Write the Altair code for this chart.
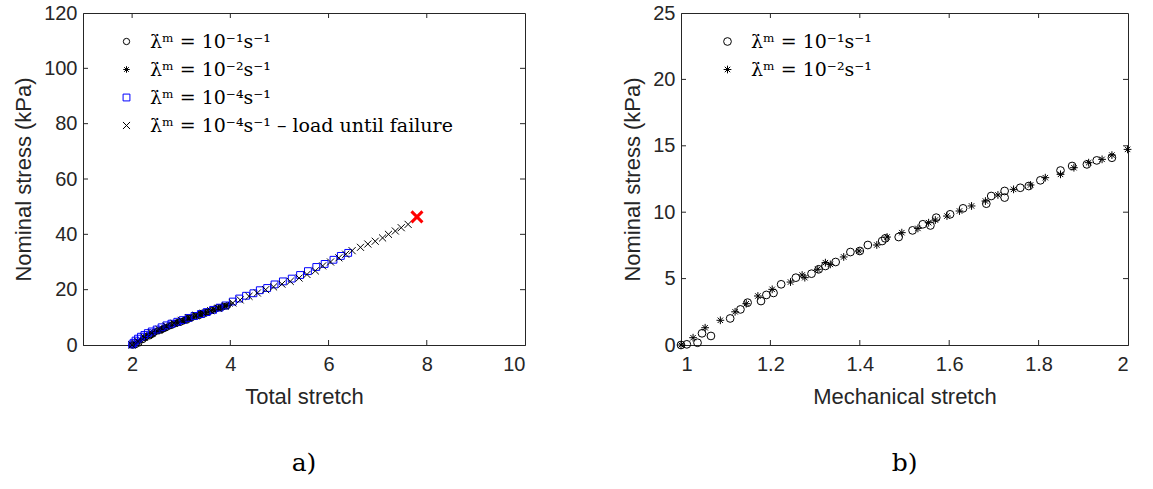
import altair as alt
import pandas as pd

# ---------------- data ----------------
S1 = "λ̇ᵐ = 10⁻¹s⁻¹"
S2 = "λ̇ᵐ = 10⁻²s⁻¹"
S4 = "λ̇ᵐ = 10⁻⁴s⁻¹"
S4F = "λ̇ᵐ = 10⁻⁴s⁻¹ – load until failure"

# panel b: mechanical stretch vs nominal stress
circ_x = [1.0, 1.013, 1.037, 1.047, 1.067, 1.11, 1.133, 1.149, 1.179, 1.191, 1.207, 1.224, 1.257,
          1.292, 1.308, 1.323, 1.346, 1.379, 1.40, 1.418, 1.45, 1.457, 1.487, 1.518, 1.541, 1.558,
          1.571, 1.602, 1.631, 1.683, 1.694, 1.724, 1.724, 1.759, 1.778, 1.804, 1.849, 1.875,
          1.908, 1.93, 1.964]
circ_y = [0.0, 0.05, 0.17, 0.88, 0.68, 2.0, 2.68, 3.19, 3.31, 3.77, 3.92, 4.57, 5.07,
          5.37, 5.70, 5.95, 6.25, 7.0, 7.08, 7.53, 7.83, 8.03, 8.13, 8.63, 9.09, 9.0,
          9.59, 9.84, 10.29, 10.64, 11.22, 11.6, 11.1, 11.84, 11.97, 12.4, 13.14, 13.48,
          13.6, 13.9, 14.1]
ast_x = [1.0, 1.027, 1.054, 1.088, 1.121, 1.146, 1.172, 1.204, 1.245, 1.271, 1.277, 1.306, 1.323,
         1.334, 1.364, 1.398, 1.438, 1.461, 1.494, 1.530, 1.554, 1.569, 1.595, 1.623, 1.65,
         1.681, 1.709, 1.744, 1.782, 1.815, 1.849, 1.879, 1.912, 1.942, 1.964, 1.999]
ast_y = [0.0, 0.55, 1.3, 1.86, 2.5, 3.11, 3.69, 4.19, 4.74, 5.27, 5.07, 5.70, 6.2,
         6.07, 6.63, 7.08, 7.53, 8.13, 8.46, 8.78, 9.21, 9.41, 9.71, 10.09, 10.47,
         10.84, 11.3, 11.72, 12.05, 12.6, 12.85, 13.35, 13.73, 13.98, 14.3, 14.73]

# panel a: total stretch vs nominal stress
sq_x = [2.0, 2.03, 2.07, 2.12, 2.18, 2.25, 2.32, 2.40, 2.50, 2.60, 2.70, 2.80, 2.92, 3.03, 3.15,
        3.27, 3.40, 3.52, 3.65, 3.78, 3.90, 4.05, 4.18, 4.32, 4.47, 4.60, 4.75, 4.90, 5.07, 5.25,
        5.42, 5.58, 5.75, 5.92, 6.10, 6.25, 6.40]
sq_y = [0.2, 0.8, 1.6, 2.3, 3.0, 3.6, 4.3, 4.9, 5.6, 6.4, 7.1, 7.7, 8.4, 9.0, 9.8,
        10.5, 11.2, 11.9, 12.7, 13.5, 14.3, 15.7, 16.8, 17.8, 18.7, 19.8, 20.6, 21.9, 23.0, 24.0,
        25.3, 26.7, 28.2, 29.3, 30.8, 32.2, 33.3]
x_x = [2.0, 2.12, 2.25, 2.4, 2.55, 2.7, 2.85, 3.0, 3.15, 3.3, 3.45, 3.6, 3.75, 3.9, 4.05, 4.2,
       4.38, 4.55, 4.72, 4.88, 5.05, 5.22, 5.4, 5.56, 5.73, 5.88, 6.04, 6.21, 6.35, 6.48, 6.65,
       6.8, 6.95, 7.1, 7.22, 7.36, 7.48, 7.62]
x_y = [0.0, 1.3, 2.8, 4.3, 5.6, 6.8, 7.9, 8.9, 9.8, 10.7, 11.5, 12.4, 13.3, 14.1, 15.2, 16.3,
       17.6, 18.8, 20.0, 21.0, 22.0, 23.0, 24.2, 25.5, 26.8, 28.6, 30.0, 31.5, 32.8, 34.1, 35.3,
       36.5, 37.5, 38.7, 40.0, 41.2, 42.4, 43.6]
fail_x = [7.8]
fail_y = [46.3]
swelling_stretch = 2.0  # total = swelling * mechanical

a_xticks = [2, 4, 6, 8, 10]
a_yticks = [0, 20, 40, 60, 80, 100, 120]
b_xticks = [1, 1.2, 1.4, 1.6, 1.8, 2]
b_yticks = [0, 5, 10, 15, 20, 25]

# ---------------- style ----------------
W_A, W_B, H = 442, 447, 332
SANS = "Liberation Sans"
SERIF = "DejaVu Serif"
AST = "M0,-1L0,1M-1,0L1,0M-0.7,-0.7L0.7,0.7M-0.7,0.7L0.7,-0.7"
XSH = "M-1,-1L1,1M-1,1L1,-1"


def frame_ticks(xticks, yticks, w, h, xdom, ydom):
    tx = pd.DataFrame({"x": xticks})
    ty = pd.DataFrame({"y": yticks})
    xs = alt.Scale(domain=xdom, nice=False, zero=False)
    ys = alt.Scale(domain=ydom, nice=False, zero=False)
    layers = []
    for y0, y1 in [(h, h - 5), (0, 5)]:
        layers.append(alt.Chart(tx).mark_rule(color="#262626", strokeWidth=1).encode(
            x=alt.X("x:Q", scale=xs), y=alt.value(y0), y2=alt.value(y1)))
    for x0, x1 in [(0, 5), (w, w - 5)]:
        layers.append(alt.Chart(ty).mark_rule(color="#262626", strokeWidth=1).encode(
            y=alt.Y("y:Q", scale=ys), x=alt.value(x0), x2=alt.value(x1)))
    return layers


def legend(x, y):
    return alt.Legend(title=None, orient="none", legendX=x, legendY=y,
                      labelFont=SERIF, labelFontSize=19, labelLimit=0,
                      rowPadding=8, padding=0, symbolStrokeWidth=1,
                      labelOffset=14, fillColor="transparent", strokeColor="transparent")


# ---- panel a ----
rows = []
for xv, yv in zip(circ_x, circ_y):
    rows.append({"x": xv * swelling_stretch, "y": yv, "s": S1})
for xv, yv in zip(ast_x, ast_y):
    rows.append({"x": xv * swelling_stretch, "y": yv, "s": S2})
for xv, yv in zip(sq_x, sq_y):
    rows.append({"x": xv, "y": yv, "s": S4})
for xv, yv in zip(x_x, x_y):
    rows.append({"x": xv, "y": yv, "s": S4F})
dfa = pd.DataFrame(rows)
dom_a = [S1, S2, S4, S4F]
leg_a = legend(34, 19)
xs_a = alt.Scale(domain=[1, 10], nice=False, zero=False)
ys_a = alt.Scale(domain=[0, 120], nice=False, zero=False)
xaxis_a = alt.Axis(values=a_xticks, title="Total stretch", grid=False, ticks=False)
yaxis_a = alt.Axis(values=a_yticks, title="Nominal stress (kPa)", grid=False, ticks=False)

pts_a = alt.Chart(dfa).mark_point(filled=False, strokeWidth=1, opacity=1).encode(
    x=alt.X("x:Q", scale=xs_a, axis=xaxis_a),
    y=alt.Y("y:Q", scale=ys_a, axis=yaxis_a),
    color=alt.Color("s:N", scale=alt.Scale(domain=dom_a, range=["#000000", "#000000", "#0000FF", "#000000"]), legend=leg_a),
    shape=alt.Shape("s:N", scale=alt.Scale(domain=dom_a, range=["circle", AST, "square", XSH]), legend=leg_a),
    size=alt.Size("s:N", scale=alt.Scale(domain=dom_a, range=[40, 50, 60, 14]), legend=leg_a),
)
fail = alt.Chart(pd.DataFrame({"x": fail_x, "y": fail_y})).mark_point(
    shape=XSH, filled=False, color="#FF0000", strokeWidth=3, size=120, opacity=1).encode(
    x=alt.X("x:Q", scale=xs_a, axis=xaxis_a), y=alt.Y("y:Q", scale=ys_a, axis=yaxis_a))

panel_a = alt.layer(pts_a, fail, *frame_ticks(a_xticks[:-1], a_yticks[1:-1], W_A, H, [1, 10], [0, 120])).properties(
    width=W_A, height=H,
    title=alt.TitleParams("a)", orient="bottom", font=SERIF, fontSize=25, fontWeight="normal",
                          frame="group", anchor="middle", offset=44, color="#000000"))

# ---- panel b ----
rows = []
for xv, yv in zip(circ_x, circ_y):
    rows.append({"x": xv, "y": yv, "s": S1})
for xv, yv in zip(ast_x, ast_y):
    rows.append({"x": xv, "y": yv, "s": S2})
dfb = pd.DataFrame(rows)
dom_b = [S1, S2]
leg_b = legend(37, 19)
xs_b = alt.Scale(domain=[1, 2], nice=False, zero=False)
ys_b = alt.Scale(domain=[0, 25], nice=False, zero=False)
xaxis_b = alt.Axis(values=b_xticks, title="Mechanical stretch", grid=False, ticks=False, format="~g")
yaxis_b = alt.Axis(values=b_yticks, title="Nominal stress (kPa)", grid=False, ticks=False)

pts_b = alt.Chart(dfb).mark_point(filled=False, strokeWidth=1, opacity=1).encode(
    x=alt.X("x:Q", scale=xs_b, axis=xaxis_b),
    y=alt.Y("y:Q", scale=ys_b, axis=yaxis_b),
    color=alt.Color("s:N", scale=alt.Scale(domain=dom_b, range=["#000000", "#000000"]), legend=leg_b),
    shape=alt.Shape("s:N", scale=alt.Scale(domain=dom_b, range=["circle", AST]), legend=leg_b),
    size=alt.Size("s:N", scale=alt.Scale(domain=dom_b, range=[60, 60]), legend=leg_b),
)
panel_b = alt.layer(pts_b, *frame_ticks(b_xticks[1:-1], b_yticks[1:-1], W_B, H, [1, 2], [0, 25])).properties(
    width=W_B, height=H,
    title=alt.TitleParams("b)", orient="bottom", font=SERIF, fontSize=25, fontWeight="normal",
                          frame="group", anchor="middle", offset=44, color="#000000"))

chart = alt.hconcat(panel_a, panel_b, spacing=95).resolve_scale(
    x="independent", y="independent", color="independent", shape="independent", size="independent"
).resolve_legend(color="independent", shape="independent", size="independent").properties(
    padding={"left": 12, "top": 2, "right": 5, "bottom": 5}, background="white"
).configure_view(stroke="#262626", strokeWidth=1).configure_axis(
    labelFont=SANS, labelFontSize=20, labelColor="#262626", titleFont=SANS, titleFontSize=22,
    titleFontWeight="normal", titleColor="#262626", domainColor="#262626", labelPadding=6,
    titlePadding=8).configure_axisX(labelPadding=9, titlePadding=12)

chart.save("out.html", embed_options={"renderer": "svg", "actions": False})
